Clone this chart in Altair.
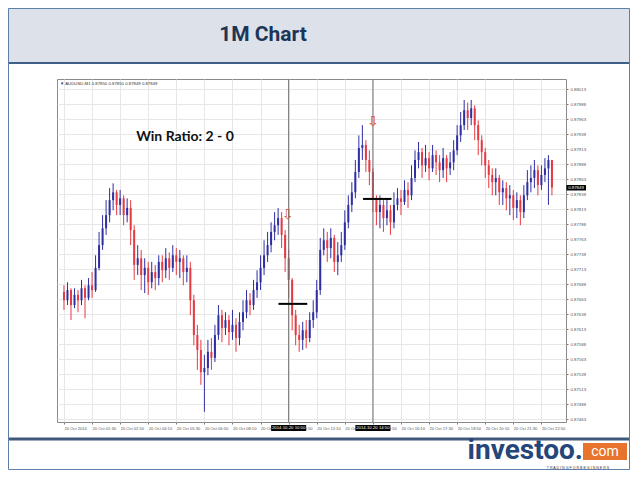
import altair as alt
import pandas as pd

# ---------------- data ----------------
# one candle every 10 minutes, 20 Oct 2014 00:10 .. 23:20 (minutes after midnight)
bar_minutes = list(range(10, 1401, 10))
first_open = 0.87675

close_px = [
    0.87661, 0.87678, 0.87653, 0.87670, 0.87661, 0.87681, 0.87665, 0.87686, 0.87678, 0.87715,
    0.87753, 0.87781, 0.87803, 0.87828, 0.87841, 0.87820, 0.87831, 0.87803, 0.87815, 0.87778,
    0.87720, 0.87731, 0.87703, 0.87715, 0.87691, 0.87708, 0.87698, 0.87725, 0.87711, 0.87731,
    0.87715, 0.87736, 0.87725, 0.87731, 0.87708, 0.87715, 0.87661, 0.87603, 0.87578, 0.87541,
    0.87548, 0.87575, 0.87565, 0.87603, 0.87636, 0.87615, 0.87628, 0.87608, 0.87620, 0.87598,
    0.87625, 0.87641, 0.87661, 0.87653, 0.87678, 0.87691, 0.87715, 0.87736, 0.87753, 0.87775,
    0.87786, 0.87798, 0.87770, 0.87731, 0.87695, 0.87636, 0.87603, 0.87595, 0.87611, 0.87598,
    0.87628, 0.87641, 0.87678, 0.87745, 0.87761, 0.87748, 0.87765, 0.87725, 0.87736, 0.87753,
    0.87791, 0.87820, 0.87841, 0.87875, 0.87915, 0.87920, 0.87895, 0.87875, 0.87828, 0.87808,
    0.87820, 0.87798, 0.87811, 0.87791, 0.87820, 0.87831, 0.87825, 0.87845, 0.87836, 0.87865,
    0.87895, 0.87908, 0.87886, 0.87898, 0.87881, 0.87903, 0.87891, 0.87878, 0.87898, 0.87881,
    0.87891, 0.87911, 0.87936, 0.87953, 0.87978, 0.87965, 0.87981, 0.87953, 0.87928, 0.87908,
    0.87886, 0.87870, 0.87858, 0.87865, 0.87841, 0.87848, 0.87831, 0.87836, 0.87815, 0.87828,
    0.87808, 0.87836, 0.87858, 0.87865, 0.87878, 0.87853, 0.87870, 0.87881, 0.87895, 0.87849,
]
high_px = [
    0.87686, 0.87691, 0.87681, 0.87681, 0.87678, 0.87695, 0.87686, 0.87698, 0.87708, 0.87736,
    0.87775, 0.87803, 0.87828, 0.87848, 0.87856, 0.87845, 0.87845, 0.87836, 0.87831, 0.87828,
    0.87786, 0.87753, 0.87745, 0.87731, 0.87725, 0.87725, 0.87720, 0.87736, 0.87736, 0.87748,
    0.87741, 0.87753, 0.87748, 0.87745, 0.87736, 0.87736, 0.87725, 0.87670, 0.87620, 0.87595,
    0.87570, 0.87595, 0.87598, 0.87620, 0.87653, 0.87645, 0.87641, 0.87636, 0.87645, 0.87631,
    0.87641, 0.87661, 0.87678, 0.87673, 0.87695, 0.87711, 0.87736, 0.87761, 0.87775, 0.87791,
    0.87808, 0.87815, 0.87808, 0.87778, 0.87745, 0.87698, 0.87645, 0.87620, 0.87625, 0.87628,
    0.87641, 0.87661, 0.87695, 0.87765, 0.87781, 0.87775, 0.87781, 0.87770, 0.87758, 0.87775,
    0.87811, 0.87836, 0.87858, 0.87895, 0.87936, 0.87953, 0.87928, 0.87911, 0.87881, 0.87836,
    0.87836, 0.87828, 0.87831, 0.87820, 0.87841, 0.87848, 0.87845, 0.87861, 0.87858, 0.87886,
    0.87911, 0.87925, 0.87915, 0.87920, 0.87908, 0.87920, 0.87911, 0.87903, 0.87915, 0.87903,
    0.87908, 0.87928, 0.87953, 0.87975, 0.87995, 0.87991, 0.87995, 0.87986, 0.87961, 0.87936,
    0.87915, 0.87895, 0.87881, 0.87881, 0.87870, 0.87861, 0.87858, 0.87853, 0.87845, 0.87841,
    0.87836, 0.87853, 0.87878, 0.87886, 0.87895, 0.87886, 0.87886, 0.87898, 0.87903, 0.87895,
]
low_px = [
    0.87645, 0.87653, 0.87628, 0.87648, 0.87641, 0.87653, 0.87631, 0.87661, 0.87665, 0.87675,
    0.87711, 0.87745, 0.87770, 0.87791, 0.87811, 0.87803, 0.87803, 0.87786, 0.87791, 0.87753,
    0.87695, 0.87703, 0.87678, 0.87673, 0.87670, 0.87681, 0.87678, 0.87686, 0.87691, 0.87698,
    0.87695, 0.87708, 0.87703, 0.87698, 0.87686, 0.87691, 0.87636, 0.87586, 0.87545, 0.87520,
    0.87475, 0.87536, 0.87545, 0.87558, 0.87595, 0.87591, 0.87603, 0.87586, 0.87595, 0.87575,
    0.87586, 0.87611, 0.87631, 0.87636, 0.87645, 0.87665, 0.87678, 0.87703, 0.87725, 0.87741,
    0.87761, 0.87770, 0.87748, 0.87708, 0.87665, 0.87611, 0.87586, 0.87575, 0.87578, 0.87581,
    0.87591, 0.87615, 0.87631, 0.87670, 0.87736, 0.87725, 0.87731, 0.87708, 0.87703, 0.87725,
    0.87745, 0.87781, 0.87808, 0.87831, 0.87865, 0.87895, 0.87875, 0.87853, 0.87808, 0.87786,
    0.87781, 0.87775, 0.87786, 0.87770, 0.87781, 0.87811, 0.87803, 0.87820, 0.87815, 0.87828,
    0.87858, 0.87881, 0.87865, 0.87875, 0.87861, 0.87875, 0.87870, 0.87858, 0.87865, 0.87858,
    0.87870, 0.87878, 0.87903, 0.87925, 0.87945, 0.87945, 0.87953, 0.87928, 0.87903, 0.87886,
    0.87865, 0.87848, 0.87836, 0.87836, 0.87820, 0.87820, 0.87811, 0.87803, 0.87795, 0.87798,
    0.87786, 0.87798, 0.87828, 0.87841, 0.87848, 0.87836, 0.87845, 0.87858, 0.87820, 0.87836,
]

price_ticks = [0.88013, 0.87988, 0.87963, 0.87938, 0.87913, 0.87888, 0.87863, 0.87838,
               0.87813, 0.87788, 0.87763, 0.87738, 0.87713, 0.87688, 0.87663, 0.87638,
               0.87613, 0.87588, 0.87563, 0.87538, 0.87513, 0.87488, 0.87463]
time_ticks = [10, 90, 170, 250, 330, 410, 490, 570, 650, 730, 810, 890,
              970, 1050, 1130, 1210, 1290, 1370]
time_labels = ["20 Oct 2014", "20 Oct 01:30", "20 Oct 02:50", "20 Oct 04:10",
               "20 Oct 05:30", "20 Oct 06:50", "20 Oct 08:10", "20 Oct 09:30",
               "20 Oct 10:50", "20 Oct 12:10", "20 Oct 13:30", "20 Oct 14:50",
               "20 Oct 16:10", "20 Oct 17:30", "20 Oct 18:50", "20 Oct 20:10",
               "20 Oct 21:30", "20 Oct 22:50"]

vline_minutes = [650, 890]
vline_labels = ["2014.10.20 10:50", "2014.10.20 14:50"]
trade_start = [621, 862]
trade_end = [703, 943]
trade_price = [0.87655, 0.87830]
arrow_minutes = [647, 890]
arrow_price = [0.87803, 0.87958]
current_price = 0.87849
header_text = "▼ AUDUSD,M1  0.87850 0.87850 0.87849 0.87849"

# ---------------- tables ----------------
opens = [first_open] + close_px[:-1]
rows = []
for m, o, c, h, l in zip(bar_minutes, opens, close_px, high_px, low_px):
    rows.append({"t": m, "open": o, "close": c,
                 "high": max(h, o, c), "low": min(l, o, c),
                 "dir": "up" if c >= o else "down"})
candles = pd.DataFrame(rows)
vlines = pd.DataFrame({"t": vline_minutes, "lab": vline_labels})
trades = pd.DataFrame({"t1": trade_start, "t2": trade_end, "p": trade_price})
arrows = pd.DataFrame({"t": arrow_minutes, "p": arrow_price})
one = pd.DataFrame({"k": [0]})

BLUE = "#2f2fa3"
RED = "#e53a42"
TINY = "Liberation Sans"

xs = alt.Scale(domain=[4.4, 1425.8], nice=False, zero=False)
ys = alt.Scale(domain=[0.87458, 0.88030], nice=False, zero=False)

label_expr = " : ".join(f"datum.value == {t} ? '{lab}'" for t, lab in zip(time_ticks, time_labels)) + " : ''"

xaxis = alt.Axis(values=time_ticks, tickCount=60, labelExpr=label_expr, labelAlign="left",
                 labelFontSize=4.1, labelColor="#555", labelPadding=2.5, tickSize=2,
                 tickColor="#777", grid=True, gridColor="#e7e7e7", domain=False,
                 title=None, labelOverlap=False, labelFlush=False, labelFont=TINY)
yaxis = alt.Axis(values=price_ticks, tickCount=60, format=".5f", orient="right",
                 labelFontSize=4.3, labelColor="#555", labelPadding=2, tickSize=2,
                 tickColor="#777", grid=True, gridColor="#e7e7e7", domain=False, title=None,
                 labelOverlap=False, labelFlush=False, labelFont=TINY)

# ---------------- slide decorations (pixel positions relative to plot origin) ----------------
band = alt.Chart(one).mark_rect(color="#dde2ea").encode(
    x=alt.value(-49), x2=alt.value(573), y=alt.value(-71), y2=alt.value(-17))
band_line = alt.Chart(one).mark_rule(color="#3f5f86", strokeWidth=2).encode(
    x=alt.value(-49), x2=alt.value(573), y=alt.value(-16))
bottom_line = alt.Chart(one).mark_rule(color="#40597a", strokeWidth=3).encode(
    x=alt.value(-49), x2=alt.value(573), y=alt.value(360))
frame = alt.Chart(one).mark_rect(fillOpacity=0, stroke="#5d7fa8", strokeWidth=1).encode(
    x=alt.value(-48.5), x2=alt.value(572.5), y=alt.value(-70.5), y2=alt.value(390.5))
title = alt.Chart(one).mark_text(text="1M Chart", font="Roboto", fontWeight="bold",
                                 fontSize=21, color="#1d3557", align="center",
                                 baseline="alphabetic").encode(
    x=alt.value(206), y=alt.value(-38))
logo = alt.Chart(one).mark_text(text="investoo.", font="Roboto", fontWeight="bold",
                                fontSize=28, color="#254679", align="right",
                                baseline="alphabetic").encode(
    x=alt.value(526), y=alt.value(380))
com_box = alt.Chart(one).mark_rect(color="#e8732c").encode(
    x=alt.value(526), x2=alt.value(570), y=alt.value(364), y2=alt.value(381))
com_txt = alt.Chart(one).mark_text(text="com", font="Roboto", fontSize=14, color="white",
                                   align="center", baseline="middle").encode(
    x=alt.value(548), y=alt.value(372.5))
tagline = alt.Chart(one).mark_text(text="T R A D I N G   F O R   B E G I N N E R S",
                                   font=TINY, fontSize=3.6, color="#333",
                                   align="center", baseline="middle").encode(
    x=alt.value(521), y=alt.value(388.6))

# ---------------- chart content ----------------
wicks = alt.Chart(candles).mark_rule(strokeWidth=1).encode(
    x=alt.X("t:Q", scale=xs, axis=xaxis),
    y=alt.Y("low:Q", scale=ys, axis=yaxis),
    y2="high:Q",
    color=alt.Color("dir:N", scale=alt.Scale(domain=["up", "down"], range=[BLUE, RED]), legend=None))
bodies = alt.Chart(candles).mark_bar(size=2).encode(
    x="t:Q", y="open:Q", y2="close:Q",
    color=alt.Color("dir:N", scale=alt.Scale(domain=["up", "down"], range=[BLUE, RED]), legend=None))

vrules = alt.Chart(vlines).mark_rule(color="#707070", strokeWidth=1).encode(x="t:Q")
trade_rules = alt.Chart(trades).mark_rule(color="black", strokeWidth=2).encode(
    x="t1:Q", x2="t2:Q", y="p:Q")
arrow_marks = alt.Chart(arrows).mark_text(text="⇩", font="DejaVu Sans", fontSize=14,
                                          color="#e0502a").encode(x="t:Q", y="p:Q")

win = alt.Chart(one).mark_text(text="Win Ratio: 2 - 0", font="Lato", fontSize=14,
                               fontWeight="bold", color="#111", align="center",
                               baseline="alphabetic").encode(
    x=alt.value(128), y=alt.value(62))
header = alt.Chart(one).mark_text(text=header_text, font=TINY, fontSize=4.3,
                                  color="#333", align="left", baseline="middle").encode(
    x=alt.value(3), y=alt.value(4.5))

cur_box = alt.Chart(one).mark_rect(color="black").encode(
    x=alt.value(509.5), x2=alt.value(529), y=alt.value(106), y2=alt.value(111.5))
cur_txt = alt.Chart(one).mark_text(text=f"{current_price:.5f}", font=TINY,
                                   fontSize=4.3, color="white", align="center",
                                   baseline="middle").encode(
    x=alt.value(519), y=alt.value(108.8))

tbox = alt.Chart(vlines).mark_rect(color="black", width=35, height=6).encode(
    x="t:Q", y=alt.value(349))
ttxt = alt.Chart(vlines).mark_text(font=TINY, fontSize=4.3, color="white",
                                   align="center", baseline="middle").encode(
    x="t:Q", y=alt.value(349), text="lab:N")

chart = alt.layer(
    band, band_line, bottom_line, frame, title, logo, com_box, com_txt, tagline,
    wicks, bodies, vrules, trade_rules, arrow_marks, win, header,
    cur_box, cur_txt, tbox, ttxt,
).properties(
    width=509, height=343,
    padding={"left": 49, "top": 71, "right": 64, "bottom": 48},
    autosize=alt.AutoSizeParams(type="none"),
    background="white",
).configure_view(stroke="#8a8a8a", strokeWidth=1)

chart.save("out.html", embed_options={"renderer": "svg", "actions": False})
